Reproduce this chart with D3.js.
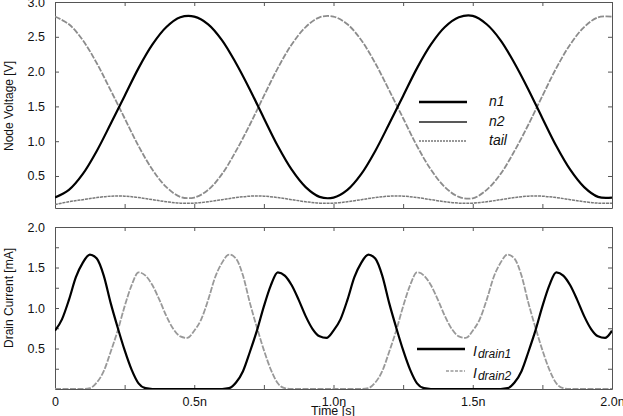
<!DOCTYPE html>
<html>
<head>
<meta charset="utf-8">
<script src="https://cdn.jsdelivr.net/npm/d3@7"></script>
<style>
  body { margin: 0; background: #fff; }
  svg text { font-family: "Liberation Sans", Arial, Helvetica, sans-serif; fill: #111; }
  .axis path, .axis line { stroke: #555; }
</style>
</head>
<body>
<div id="chart"></div>
<script>
/**
 * CONSTANTS AND GLOBALS
 * */
const width = 623,
  height = 416,
  plotLeft = 55,
  plotRight = 612;

/**
 * DATA
 * */
// sample times in ns
const timeV = d3.range(0, 2.0001, 0.05);
const timeI = d3.range(0, 2.0001, 0.025);

const n1 = [0.19, 0.30, 0.53, 0.86, 1.25, 1.65, 2.05, 2.39, 2.64, 2.78, 2.79,
  2.68, 2.45, 2.12, 1.74, 1.33, 0.93, 0.59, 0.34, 0.20, 0.19,
  0.30, 0.53, 0.86, 1.25, 1.65, 2.05, 2.39, 2.64, 2.78, 2.80,
  2.68, 2.45, 2.12, 1.74, 1.33, 0.93, 0.59, 0.34, 0.20, 0.19];

const n2 = [2.79, 2.68, 2.45, 2.12, 1.73, 1.33, 0.93, 0.59, 0.34, 0.20, 0.19,
  0.30, 0.53, 0.86, 1.24, 1.65, 2.05, 2.39, 2.64, 2.78, 2.79,
  2.68, 2.45, 2.12, 1.73, 1.33, 0.93, 0.59, 0.34, 0.20, 0.18,
  0.30, 0.53, 0.86, 1.24, 1.65, 2.05, 2.39, 2.64, 2.78, 2.79];

const tail = [0.09, 0.13, 0.16, 0.19, 0.21, 0.21, 0.19, 0.16, 0.13, 0.11,
  0.11, 0.13, 0.16, 0.19, 0.21, 0.21, 0.19, 0.16, 0.13, 0.11,
  0.11, 0.13, 0.16, 0.19, 0.21, 0.21, 0.19, 0.16, 0.13, 0.11,
  0.11, 0.13, 0.16, 0.19, 0.21, 0.21, 0.19, 0.16, 0.13, 0.11, 0.11];

const drain1 = [0.72, 0.86, 1.10, 1.38, 1.56, 1.66, 1.61, 1.40, 1.06, 0.76,
  0.48, 0.24, 0.07, 0.01, 0, 0, 0, 0, 0, 0, 0, 0, 0, 0, 0,
  0.01, 0.08, 0.22, 0.46, 0.72, 1.02, 1.28, 1.44, 1.40, 1.28, 1.10, 0.90, 0.74, 0.65, 0.63, 0.72,
  0.86, 1.10, 1.38, 1.56, 1.66, 1.61, 1.40, 1.06, 0.76,
  0.48, 0.24, 0.07, 0.01, 0, 0, 0, 0, 0, 0, 0, 0, 0, 0, 0,
  0.01, 0.08, 0.22, 0.46, 0.72, 1.02, 1.28, 1.44, 1.40, 1.28, 1.10, 0.90, 0.74, 0.65, 0.63, 0.72];

const drain2 = [0, 0, 0, 0, 0, 0.01, 0.08, 0.22, 0.46, 0.72,
  1.02, 1.28, 1.44, 1.40, 1.28, 1.10, 0.90, 0.74, 0.65, 0.63,
  0.72, 0.86, 1.10, 1.38, 1.56, 1.66, 1.61, 1.40, 1.06, 0.76,
  0.48, 0.24, 0.07, 0.01, 0, 0, 0, 0, 0, 0, 0, 0, 0, 0, 0,
  0.01, 0.08, 0.22, 0.46, 0.72, 1.02, 1.28, 1.44, 1.40, 1.28, 1.10, 0.90, 0.74, 0.65, 0.63,
  0.72, 0.86, 1.10, 1.38, 1.56, 1.66, 1.61, 1.40, 1.06, 0.76,
  0.48, 0.24, 0.07, 0.01, 0, 0, 0, 0, 0, 0, 0];

const xTicks = [0, 0.25, 0.5, 0.75, 1.0, 1.25, 1.5, 1.75, 2.0];
const xTickLabels = ["0", "", "0.5n", "", "1.0n", "", "1.5n", "", "2.0n"];
const vTicks = [0.5, 1.0, 1.5, 2.0, 2.5, 3.0];
const vTickLabels = ["0.5", "1.0", "1.5", "2.0", "2.5", "3.0"];
const iTicks = [0.25, 0.5, 0.75, 1.0, 1.25, 1.5, 1.75, 2.0];
const iTickLabels = ["", "0.5", "", "1.0", "", "1.5", "", "2.0"];

const vSeries = [
  { name: "n1", values: n1, color: "#000", width: 2.2, dash: null },
  { name: "n2", values: n2, color: "#8c8c8c", width: 1.8, dash: "6,1.5" },
  { name: "tail", values: tail, color: "#7a7a7a", width: 1.5, dash: "3,0.8" },
];
const iSeries = [
  { name: "drain1", values: drain1, color: "#000", width: 2.2, dash: null },
  { name: "drain2", values: drain2, color: "#999", width: 1.8, dash: "6,1.5" },
];

/**
 * SCALES
 * */
const x = d3.scaleLinear().domain([0, 2.0]).range([plotLeft, plotRight]);
const yV = d3.scaleLinear().domain([0.04, 3.0]).range([208, 2]);
const yI = d3.scaleLinear().domain([0, 2.0]).range([389, 227]);

const svg = d3.select("#chart")
  .append("svg")
  .attr("width", width)
  .attr("height", height);

// frame + inward ticks for one panel
function drawFrame(y, yTicks, yLabels, showX) {
  const [y0, y1] = y.range();
  const g = svg.append("g");

  g.append("g").attr("class", "axis")
    .attr("transform", `translate(0,${y0})`)
    .call(d3.axisBottom(x).tickValues(xTicks).tickSizeInner(-4).tickSizeOuter(0)
      .tickPadding(8)
      .tickFormat((d, i) => showX ? xTickLabels[i] : ""));

  g.append("g").attr("class", "axis")
    .attr("transform", `translate(0,${y1})`)
    .call(d3.axisTop(x).tickValues(xTicks).tickSizeInner(-4).tickSizeOuter(0).tickFormat(""));

  g.append("g").attr("class", "axis")
    .attr("transform", `translate(${plotLeft},0)`)
    .call(d3.axisLeft(y).tickValues(yTicks).tickSizeInner(-4).tickSizeOuter(0)
      .tickPadding(10)
      .tickFormat((d, i) => yLabels[i]));

  g.append("g").attr("class", "axis")
    .attr("transform", `translate(${plotRight},0)`)
    .call(d3.axisRight(y).tickValues(yTicks).tickSizeInner(-4).tickSizeOuter(0).tickFormat(""));

  g.selectAll(".axis text").style("font-size", "12.5px").attr("fill", "#111");
  g.selectAll(".axis .domain").attr("stroke", "#555");
}

drawFrame(yV, vTicks, vTickLabels, false);
drawFrame(yI, iTicks, iTickLabels, true);

// clip paths
svg.append("clipPath").attr("id", "clipV")
  .append("rect").attr("x", plotLeft).attr("y", yV.range()[1])
  .attr("width", plotRight - plotLeft).attr("height", yV.range()[0] - yV.range()[1]);
svg.append("clipPath").attr("id", "clipI")
  .append("rect").attr("x", plotLeft).attr("y", yI.range()[1])
  .attr("width", plotRight - plotLeft).attr("height", yI.range()[0] - yI.range()[1]);

// + LINES
const lineV = d3.line()
  .x((d, i) => x(timeV[i]))
  .y(d => yV(d))
  .curve(d3.curveCatmullRom);

const lineI = d3.line()
  .x((d, i) => x(timeI[i]))
  .y(d => yI(d))
  .curve(d3.curveMonotoneX);

svg.append("g").attr("clip-path", "url(#clipV)")
  .selectAll("path")
  .data(vSeries.slice().reverse())
  .join("path")
  .attr("fill", "none")
  .attr("stroke", d => d.color)
  .attr("stroke-width", d => d.width)
  .attr("stroke-dasharray", d => d.dash)
  .attr("d", d => lineV(d.values));

svg.append("g").attr("clip-path", "url(#clipI)")
  .selectAll("path")
  .data(iSeries.slice().reverse())
  .join("path")
  .attr("fill", "none")
  .attr("stroke", d => d.color)
  .attr("stroke-width", d => d.width)
  .attr("stroke-dasharray", d => d.dash)
  .attr("d", d => lineI(d.values));

// + AXIS TITLES
svg.append("text")
  .attr("transform", "translate(13,106) rotate(-90)")
  .attr("text-anchor", "middle")
  .style("font-size", "12px")
  .text("Node Voltage [V]");

svg.append("text")
  .attr("transform", "translate(13,298) rotate(-90)")
  .attr("text-anchor", "middle")
  .style("font-size", "12px")
  .text("Drain Current [mA]");

svg.append("text")
  .attr("x", 333)
  .attr("y", 415)
  .attr("text-anchor", "middle")
  .style("font-size", "12.5px")
  .text("Time [s]");

// + LEGENDS
const legV = [
  { label: "n1", y: 102, color: "#000", width: 2.5, dash: null },
  { label: "n2", y: 122, color: "#222", width: 1.5, dash: null },
  { label: "tail", y: 141, color: "#777", width: 1.5, dash: "2,1" },
];
const lv = svg.append("g").selectAll("g").data(legV).join("g");
lv.append("line")
  .attr("x1", 419).attr("x2", 467)
  .attr("y1", d => d.y).attr("y2", d => d.y)
  .attr("stroke", d => d.color)
  .attr("stroke-width", d => d.width)
  .attr("stroke-dasharray", d => d.dash);
lv.append("text")
  .attr("x", 489).attr("y", d => d.y + 4)
  .style("font-size", "14px")
  .style("font-style", "italic")
  .text(d => d.label);

const legI = [
  { sub: "drain1", y: 349, x1: 417, color: "#000", width: 2.3, dash: null },
  { sub: "drain2", y: 371, x1: 446, color: "#999", width: 1.3, dash: "3,1.5" },
];
const li = svg.append("g").selectAll("g").data(legI).join("g");
li.append("line")
  .attr("x1", d => d.x1).attr("x2", 465)
  .attr("y1", d => d.y).attr("y2", d => d.y)
  .attr("stroke", d => d.color)
  .attr("stroke-width", d => d.width)
  .attr("stroke-dasharray", d => d.dash);
const lt = li.append("text")
  .attr("x", 473).attr("y", d => d.y + 7)
  .style("font-style", "italic")
  .style("font-size", "14px");
lt.append("tspan").text("I");
lt.append("tspan")
  .attr("dx", 1).attr("dy", 2)
  .style("font-size", "12px")
  .text(d => d.sub);
</script>
</body>
</html>
